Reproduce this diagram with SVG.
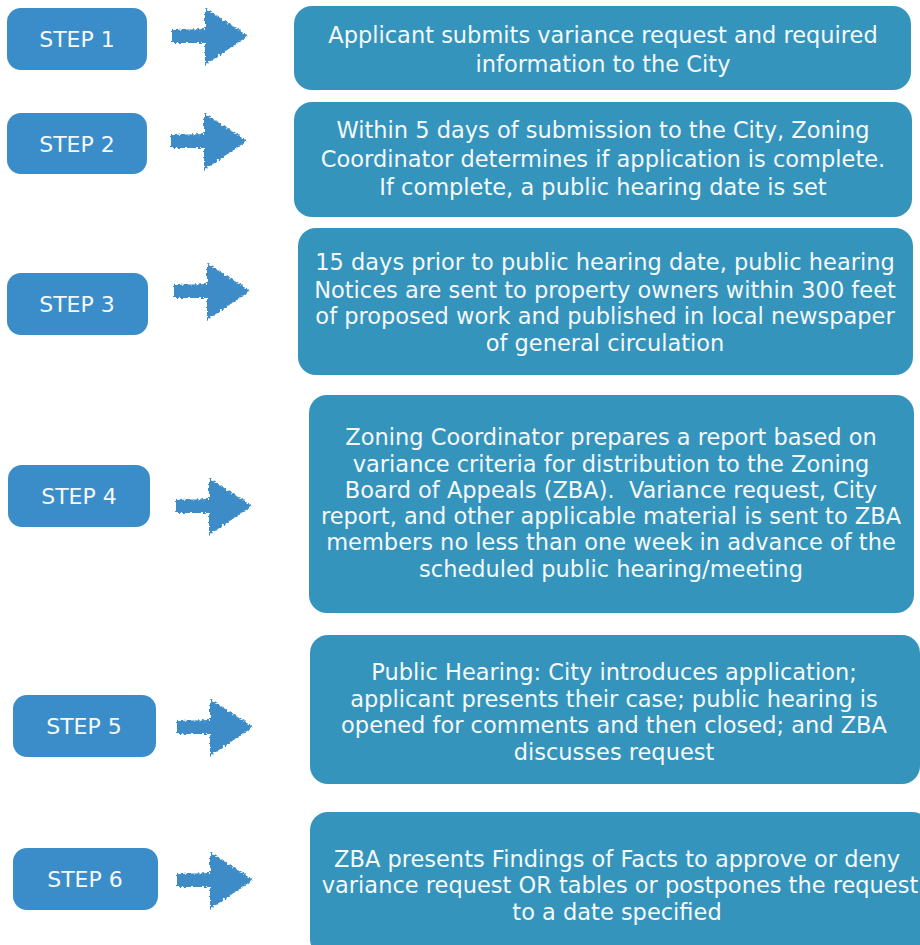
<svg xmlns="http://www.w3.org/2000/svg" width="920" height="945" viewBox="0 0 920 945">
  <defs>
    <filter id="rough" x="-10%" y="-10%" width="120%" height="120%">
      <feTurbulence type="fractalNoise" baseFrequency="0.4" numOctaves="2" seed="3" result="n"/>
      <feDisplacementMap in="SourceGraphic" in2="n" scale="4.5" xChannelSelector="R" yChannelSelector="G"/>
    </filter>
    <path id="arrow" d="M0,-6 L33,-7 L33,-28 L76,0 L33,29 L33,7 L0,7 Z"/>
  </defs>
  <style>
    .step rect { fill: #3a8dc8; }
    .step text { fill: #f5f9fc; font-family: "DejaVu Sans", Verdana, sans-serif; font-size: 22px; text-anchor: middle; }
    .box rect { fill: #3494bb; }
    .box text { fill: #f5f9fc; font-family: "DejaVu Sans", Verdana, sans-serif; font-size: 22.5px; text-anchor: middle; }
    .arr use { fill: #3c8cc8; filter: url(#rough); }
  </style>
  <rect width="920" height="945" fill="#ffffff"/>

  <g id="step1" class="step"><rect x="7" y="8" width="140" height="62" rx="14"/><text x="77" y="47">STEP 1</text></g>
  <g id="step2" class="step"><rect x="7" y="113" width="140" height="61" rx="14"/><text x="77" y="152">STEP 2</text></g>
  <g id="step3" class="step"><rect x="7" y="273" width="141" height="62" rx="14"/><text x="77" y="312">STEP 3</text></g>
  <g id="step4" class="step"><rect x="8" y="465" width="142" height="62" rx="14"/><text x="79" y="504">STEP 4</text></g>
  <g id="step5" class="step"><rect x="13" y="695" width="143" height="62" rx="14"/><text x="84" y="734">STEP 5</text></g>
  <g id="step6" class="step"><rect x="13" y="848" width="145" height="62" rx="14"/><text x="85" y="887">STEP 6</text></g>

  <g id="connectors" class="arr">
    <use href="#arrow" x="172" y="36"/>
    <use href="#arrow" x="171" y="141"/>
    <use href="#arrow" x="174" y="291"/>
    <use href="#arrow" x="176" y="506"/>
    <use href="#arrow" x="177" y="727"/>
    <use href="#arrow" x="177" y="880"/>
  </g>

  <g id="box1" class="box">
    <rect x="294" y="6" width="617" height="84" rx="18"/>
    <text x="603" y="43">Applicant submits variance request and required</text>
    <text x="603" y="72">information to the City</text>
  </g>
  <g id="box2" class="box">
    <rect x="294" y="102" width="618" height="115" rx="18"/>
    <text x="603" y="138">Within 5 days of submission to the City, Zoning</text>
    <text x="603" y="167">Coordinator determines if application is complete.</text>
    <text x="603" y="195">If complete, a public hearing date is set</text>
  </g>
  <g id="box3" class="box">
    <rect x="298" y="228" width="615" height="147" rx="18"/>
    <text x="605" y="270">15 days prior to public hearing date, public hearing</text>
    <text x="605" y="298">Notices are sent to property owners within 300 feet</text>
    <text x="605" y="324">of proposed work and published in local newspaper</text>
    <text x="605" y="351">of general circulation</text>
  </g>
  <g id="box4" class="box">
    <rect x="309" y="395" width="605" height="218" rx="18"/>
    <text x="611" y="445">Zoning Coordinator prepares a report based on</text>
    <text x="611" y="472">variance criteria for distribution to the Zoning</text>
    <text x="611" y="498" xml:space="preserve">Board of Appeals (ZBA).  Variance request, City</text>
    <text x="611" y="524">report, and other applicable material is sent to ZBA</text>
    <text x="611" y="550">members no less than one week in advance of the</text>
    <text x="611" y="577">scheduled public hearing/meeting</text>
  </g>
  <g id="box5" class="box">
    <rect x="310" y="635" width="610" height="149" rx="18"/>
    <text x="614" y="680">Public Hearing: City introduces application;</text>
    <text x="614" y="707">applicant presents their case; public hearing is</text>
    <text x="614" y="733">opened for comments and then closed; and ZBA</text>
    <text x="614" y="760">discusses request</text>
  </g>
  <g id="box6" class="box">
    <rect x="310" y="812" width="620" height="145" rx="18"/>
    <text x="617" y="867">ZBA presents Findings of Facts to approve or deny</text>
    <text x="620" y="893">variance request OR tables or postpones the request</text>
    <text x="617" y="920">to a date specified</text>
  </g>
</svg>
